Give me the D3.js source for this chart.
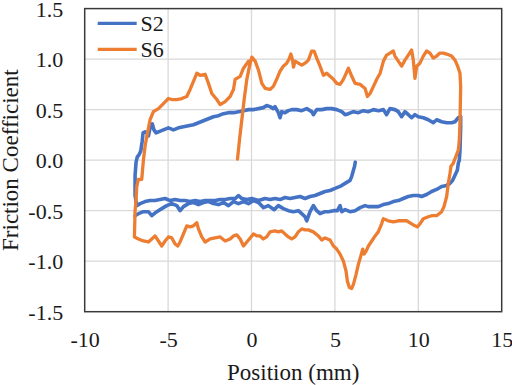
<!DOCTYPE html>
<html>
<head>
<meta charset="utf-8">
<script src="https://cdn.jsdelivr.net/npm/d3@7"></script>
<style>
  html, body { margin: 0; padding: 0; background: #fff; }
  svg { display: block; }
  text { font-family: "Liberation Serif", "Times New Roman", serif; fill: #1a1a1a; }
</style>
</head>
<body>
<svg id="chart" width="512" height="385"></svg>
<script>
const seriesNames = ["S2", "S6"];
const xTicks = [-10, -5, 0, 5, 10, 15];
const yTicks = [-1.5, -1.0, -0.5, 0.0, 0.5, 1.0, 1.5];

// S2: position (mm), friction coefficient — traced in drawing order
const s2Points = [
  [6.22,-0.02],[6.18,-0.06],[6.11,-0.10],[6.01,-0.16],[5.91,-0.20],[5.61,-0.23],[5.31,-0.26],[5.01,-0.28],
  [4.71,-0.30],[4.41,-0.31],[4.11,-0.33],[3.81,-0.35],[3.51,-0.36],[3.21,-0.38],[2.91,-0.36],[2.61,-0.37],
  [2.31,-0.38],[2.01,-0.37],[1.71,-0.39],[1.41,-0.38],[1.11,-0.39],[0.81,-0.38],[0.42,-0.40],[0.02,-0.38],
  [-0.28,-0.39],[-0.58,-0.38],[-0.78,-0.35],[-0.98,-0.38],[-1.28,-0.38],[-1.58,-0.39],[-1.88,-0.39],
  [-2.18,-0.40],[-2.48,-0.40],[-2.78,-0.40],[-3.08,-0.41],[-3.38,-0.40],[-3.68,-0.41],[-3.98,-0.40],
  [-4.28,-0.40],[-4.58,-0.39],[-4.88,-0.40],[-5.18,-0.38],[-5.48,-0.39],[-5.78,-0.40],[-6.08,-0.40],
  [-6.38,-0.41],[-6.68,-0.43],[-6.88,-0.45],
  [-6.98,-0.35],[-6.98,-0.15],[-6.92,-0.02],[-6.85,0.03],[-6.72,0.06],[-6.64,0.09],[-6.56,0.18],[-6.50,0.27],
  [-6.38,0.28],[-6.28,0.27],[-6.18,0.24],[-6.08,0.32],[-5.95,0.36],[-5.85,0.30],[-5.72,0.27],[-5.58,0.28],
  [-5.28,0.30],[-4.98,0.32],[-4.68,0.30],[-4.38,0.32],[-4.08,0.33],[-3.78,0.34],[-3.48,0.35],[-3.18,0.37],
  [-2.88,0.39],[-2.58,0.41],[-2.28,0.43],[-1.98,0.44],[-1.68,0.46],[-1.38,0.47],[-1.08,0.47],[-0.78,0.48],
  [-0.48,0.49],[-0.18,0.50],[0.12,0.50],[0.42,0.51],[0.71,0.52],[0.91,0.54],[1.11,0.53],[1.31,0.51],
  [1.41,0.53],[1.61,0.47],[1.71,0.42],[1.81,0.48],[2.01,0.47],[2.21,0.49],[2.41,0.50],[2.71,0.50],
  [3.01,0.49],[3.31,0.51],[3.61,0.48],[3.71,0.45],[3.91,0.50],[4.21,0.50],[4.51,0.51],[4.81,0.51],
  [5.11,0.50],[5.41,0.48],[5.61,0.45],[5.81,0.46],[6.11,0.48],[6.41,0.47],[6.71,0.49],[7.01,0.48],
  [7.31,0.50],[7.61,0.49],[7.91,0.50],[8.10,0.45],[8.30,0.51],[8.60,0.50],[8.80,0.48],[9.00,0.43],
  [9.20,0.48],[9.40,0.45],[9.60,0.42],[9.80,0.45],[10.0,0.43],[10.3,0.42],[10.6,0.40],[10.9,0.37],
  [11.1,0.40],[11.4,0.38],[11.7,0.37],[12.0,0.37],[12.2,0.38],[12.4,0.42],[12.54,0.43],
  [12.54,0.33],[12.50,0.10],[12.46,0.00],[12.40,-0.03],[12.34,-0.10],[12.20,-0.15],[12.06,-0.20],
  [11.9,-0.23],[11.7,-0.25],[11.4,-0.26],[11.1,-0.29],[10.8,-0.31],[10.5,-0.34],[10.2,-0.36],[10.0,-0.35],
  [9.7,-0.35],[9.4,-0.36],[9.1,-0.38],[8.8,-0.40],[8.5,-0.41],[8.2,-0.43],[7.9,-0.44],[7.6,-0.46],
  [7.3,-0.46],[7.0,-0.46],[6.81,-0.45],[6.51,-0.47],[6.21,-0.50],[5.91,-0.51],[5.61,-0.49],[5.41,-0.51],
  [5.31,-0.45],[5.15,-0.50],[4.91,-0.50],[4.61,-0.51],[4.41,-0.51],[4.11,-0.53],[3.91,-0.50],[3.71,-0.45],
  [3.51,-0.51],[3.31,-0.60],[3.21,-0.56],[3.01,-0.53],[2.81,-0.50],[2.51,-0.51],[2.21,-0.50],[1.91,-0.48],
  [1.61,-0.45],[1.36,-0.49],[1.01,-0.45],[0.72,-0.47],[0.42,-0.42],[0.12,-0.40],[-0.18,-0.43],[-0.48,-0.41],
  [-0.78,-0.43],[-1.08,-0.41],[-1.38,-0.45],[-1.68,-0.42],[-1.98,-0.44],[-2.28,-0.43],[-2.58,-0.41],
  [-2.88,-0.42],[-3.18,-0.44],[-3.48,-0.42],[-3.78,-0.43],[-4.08,-0.46],[-4.28,-0.50],[-4.48,-0.45],
  [-4.78,-0.43],[-5.08,-0.45],[-5.38,-0.48],[-5.68,-0.51],[-5.98,-0.55],[-6.18,-0.51],[-6.48,-0.51],
  [-6.78,-0.53],[-6.98,-0.55]
];

// S6: position (mm), friction coefficient — traced in drawing order
const s6Points = [
  [-0.84,0.01],[-0.72,0.20],[-0.58,0.40],[-0.44,0.60],[-0.28,0.80],[-0.12,0.93],[0.02,1.02],
  [0.22,0.98],[0.42,0.89],[0.62,0.76],[0.82,0.71],[1.11,0.70],[1.31,0.73],[1.51,0.80],[1.71,0.88],
  [1.91,0.93],[2.11,0.96],[2.25,1.00],[2.36,1.05],[2.45,1.00],[2.52,0.92],[2.61,0.98],[2.81,0.96],
  [3.01,0.94],[3.21,0.96],[3.41,0.99],[3.61,1.08],[3.75,1.08],[3.91,1.01],[4.11,0.93],[4.31,0.84],
  [4.51,0.86],[4.71,0.83],[4.91,0.80],[5.11,0.76],[5.31,0.75],[5.51,0.80],[5.81,0.91],[6.01,0.83],
  [6.21,0.76],[6.51,0.75],[6.81,0.71],[6.95,0.63],[7.11,0.66],[7.31,0.73],[7.51,0.80],[7.71,0.86],
  [7.91,0.98],[8.10,1.04],[8.30,1.06],[8.50,1.08],[8.60,1.03],[8.80,0.98],[9.00,0.93],[9.20,0.99],
  [9.40,1.04],[9.60,1.09],[9.70,0.99],[9.80,0.81],[9.90,0.93],[10.1,0.96],[10.3,1.03],[10.5,1.08],
  [10.7,1.06],[10.9,1.01],[11.1,1.03],[11.3,1.06],[11.5,1.06],[11.7,1.05],[12.0,1.03],[12.2,0.99],
  [12.36,0.93],[12.50,0.86],[12.54,0.73],
  [12.50,0.37],[12.46,0.20],[12.40,0.10],[12.26,0.04],[12.10,-0.03],[11.96,-0.06],[11.90,-0.13],
  [11.80,-0.23],[11.70,-0.36],[11.54,-0.46],[11.40,-0.51],[11.1,-0.55],[10.8,-0.55],[10.6,-0.56],
  [10.3,-0.58],[10.1,-0.63],[9.96,-0.66],[9.8,-0.65],[9.6,-0.63],[9.3,-0.60],[9.1,-0.60],[8.8,-0.60],
  [8.5,-0.61],[8.2,-0.60],[7.9,-0.58],[7.8,-0.63],[7.6,-0.71],[7.41,-0.75],[7.21,-0.80],[7.01,-0.85],
  [6.87,-0.90],[6.75,-0.93],[6.67,-0.88],[6.55,-0.95],[6.41,-1.03],[6.27,-1.13],[6.11,-1.23],[6.01,-1.27],
  [5.87,-1.26],[5.75,-1.20],[5.67,-1.10],[5.51,-1.00],[5.31,-0.93],[5.11,-0.88],[4.91,-0.85],[4.71,-0.79],
  [4.41,-0.77],[4.21,-0.79],[4.01,-0.75],[3.71,-0.71],[3.41,-0.69],[3.21,-0.69],[3.01,-0.68],[2.81,-0.71],
  [2.61,-0.76],[2.41,-0.78],[2.21,-0.76],[2.01,-0.73],[1.81,-0.70],[1.61,-0.71],[1.41,-0.70],[1.11,-0.71],
  [0.91,-0.76],[0.71,-0.78],[0.51,-0.75],[0.32,-0.75],[0.12,-0.73],[-0.08,-0.77],[-0.28,-0.81],[-0.48,-0.85],
  [-0.68,-0.78],[-0.88,-0.74],[-1.08,-0.75],[-1.28,-0.78],[-1.58,-0.80],[-1.88,-0.76],[-2.18,-0.77],
  [-2.48,-0.78],[-2.78,-0.81],[-2.98,-0.76],[-3.18,-0.68],[-3.28,-0.62],[-3.48,-0.65],[-3.68,-0.66],
  [-3.88,-0.65],[-4.08,-0.73],[-4.28,-0.81],[-4.42,-0.85],[-4.58,-0.83],[-4.78,-0.77],[-4.98,-0.76],
  [-5.18,-0.80],[-5.38,-0.85],[-5.58,-0.80],[-5.78,-0.75],[-5.98,-0.78],[-6.18,-0.81],[-6.48,-0.80],
  [-6.78,-0.78],[-7.02,-0.76],
  [-6.98,-0.50],[-6.92,-0.39],[-6.88,-0.26],[-6.78,-0.19],[-6.58,-0.19],[-6.48,0.00],[-6.38,0.14],
  [-6.28,0.23],[-6.08,0.40],[-5.88,0.48],[-5.58,0.51],[-5.28,0.56],[-4.98,0.61],[-4.78,0.60],[-4.48,0.60],
  [-4.18,0.61],[-3.88,0.63],[-3.68,0.70],[-3.48,0.78],[-3.28,0.86],[-3.08,0.84],[-2.78,0.85],[-2.58,0.76],
  [-2.38,0.66],[-2.08,0.60],[-1.88,0.55],[-1.58,0.58],[-1.28,0.63],[-1.08,0.70],[-0.98,0.80],[-0.68,0.83],
  [-0.48,0.91],[-0.18,0.98]
];

const colors = { S2: "#4472C4", S6: "#ED7D31" };
const seriesData = { S2: s2Points, S6: s6Points };

const svg = d3.select("#chart");
const m = { left: 84.7, right: 501.7, top: 8.6, bottom: 311.7 };

const x = d3.scaleLinear().domain([-10, 15]).range([m.left, m.right]);
const y = d3.scaleLinear().domain([-1.5, 1.5]).range([m.bottom, m.top]);

// gridlines
const grid = svg.append("g");
grid.selectAll("line.vx").data(xTicks.filter(t => t > -10 && t < 15)).join("line")
  .attr("x1", d => x(d)).attr("x2", d => x(d))
  .attr("y1", m.top).attr("y2", m.bottom)
  .attr("stroke", "#d9d9d9").attr("stroke-width", 1.3);
grid.selectAll("line.hy").data(yTicks.filter(t => t > -1.5 && t < 1.5)).join("line")
  .attr("x1", m.left).attr("x2", m.right)
  .attr("y1", d => y(d)).attr("y2", d => y(d))
  .attr("stroke", "#d9d9d9").attr("stroke-width", 1.3);

// axes (labels only)
const xAxis = d3.axisBottom(x).tickValues(xTicks).tickSize(0).tickFormat(d3.format("d"));
const gx = svg.append("g").attr("transform", `translate(0,${m.bottom})`).call(xAxis);
gx.select(".domain").remove();
gx.selectAll("text").attr("font-size", 22).attr("dy", null).attr("y", 35.5)
  .attr("fill", "#1a1a1a")
  .text(d => d < 0 ? "-" + Math.abs(d) : d);

const yAxis = d3.axisLeft(y).tickValues(yTicks).tickSize(0).tickFormat(d3.format(".1f"));
const gy = svg.append("g").attr("transform", `translate(${m.left},0)`).call(yAxis);
gy.select(".domain").remove();
gy.selectAll("text").attr("font-size", 22).attr("x", -21.5).attr("dy", "0.34em")
  .attr("fill", "#1a1a1a")
  .text(d => d < 0 ? "-" + Math.abs(d).toFixed(1) : d.toFixed(1));

// series
const line = d3.line().x(d => x(d[0])).y(d => y(d[1]));
const plot = svg.append("g");
seriesNames.forEach(name => {
  plot.append("path").datum(seriesData[name])
    .attr("d", line)
    .attr("fill", "none")
    .attr("stroke", colors[name])
    .attr("stroke-width", name === "S2" ? 3.6 : 3.3)
    .attr("stroke-linejoin", "round")
    .attr("stroke-linecap", "round");
});

// plot border
svg.append("rect")
  .attr("x", m.left).attr("y", m.top)
  .attr("width", m.right - m.left).attr("height", m.bottom - m.top)
  .attr("fill", "none").attr("stroke", "#3a3a3a").attr("stroke-width", 1.5);

// legend
const legend = svg.append("g");
seriesNames.forEach((name, i) => {
  const ly = 23.3 + i * 26;
  legend.append("line").attr("x1", 97.7).attr("x2", 136.7).attr("y1", ly).attr("y2", ly)
    .attr("stroke", colors[name]).attr("stroke-width", 3.3);
  legend.append("text").attr("x", 140.5).attr("y", ly + 7.8)
    .attr("font-size", 22).text(name);
});

// axis titles
svg.append("text").attr("x", (m.left + m.right) / 2).attr("y", 379.5)
  .attr("text-anchor", "middle").attr("font-size", 23).text("Position (mm)");
svg.append("text")
  .attr("transform", `translate(17.5,${(m.top + m.bottom) / 2}) rotate(-90)`)
  .attr("text-anchor", "middle").attr("font-size", 23).text("Friction Coefficient");
</script>
</body>
</html>
